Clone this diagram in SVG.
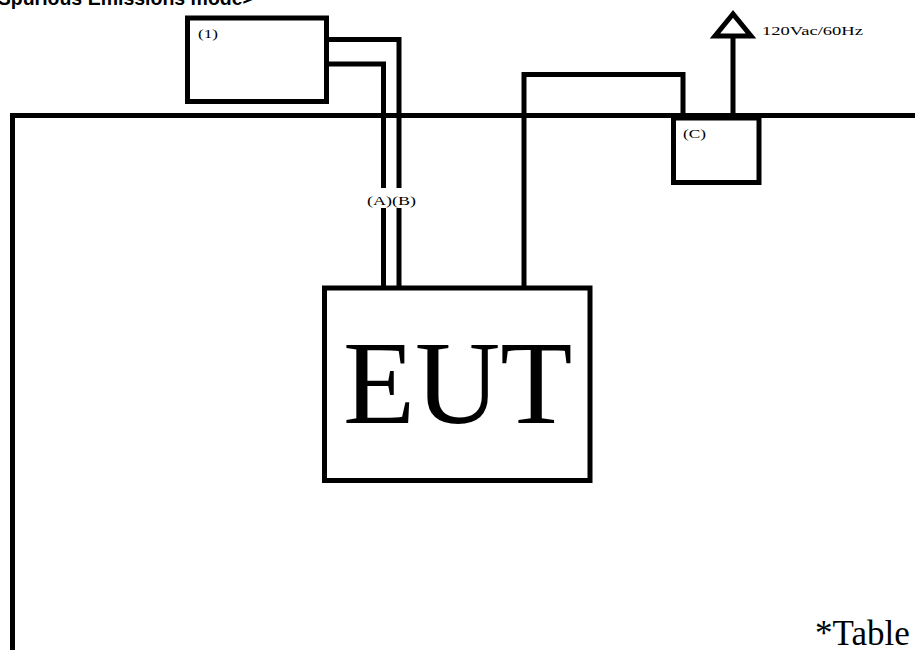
<svg xmlns="http://www.w3.org/2000/svg" width="915" height="650" viewBox="0 0 915 650">
  <style>
    .ln { fill: none; stroke: #000; stroke-width: 5; stroke-linejoin: miter; }
    .box { fill: #fff; stroke: #000; stroke-width: 5; }
    .lbl { font-family: "Liberation Serif", "DejaVu Serif", serif; font-size: 13px; fill: #000; }
    .title { font-family: "Liberation Sans", Arial, sans-serif; font-weight: bold; font-size: 19.5px; fill: #000; }
  </style>
  <rect width="915" height="650" fill="#fff"/>

  <!-- heading, partly outside the top edge -->
  <text class="title" x="254" y="5" text-anchor="end">&lt;Spurious Emissions mode&gt;</text>

  <!-- table outline -->
  <g id="table">
    <path class="ln" d="M12.5,650 V115.5 H915"/>
    <text x="815" y="645" font-family="Liberation Serif, serif" font-size="35" fill="#000">*Table</text>
  </g>

  <!-- cables -->
  <g id="connectors">
    <path class="ln" d="M326.5,64 H383.5 V288"/>
    <path class="ln" d="M326.5,39.5 H399 V288"/>
    <path class="ln" d="M524,288 V74.5 H683 V118"/>
    <path class="ln" d="M733,118 V36"/>
  </g>

  <g id="cable-labels">
    <rect x="365" y="188" width="54" height="20" fill="#fff"/>
    <text class="lbl" x="367" y="205" textLength="49" lengthAdjust="spacingAndGlyphs">(A)(B)</text>
  </g>

  <g id="node-1">
    <rect class="box" x="187.5" y="18" width="139" height="83.5"/>
    <text class="lbl" x="198" y="38" textLength="20" lengthAdjust="spacingAndGlyphs">(1)</text>
  </g>

  <g id="node-c">
    <rect class="box" x="673.5" y="118" width="85.5" height="64.5"/>
    <text class="lbl" x="683" y="138" textLength="23" lengthAdjust="spacingAndGlyphs">(C)</text>
  </g>

  <g id="power-source">
    <polygon class="ln" points="733,14 715,36 751,36"/>
    <text class="lbl" x="762" y="35" textLength="101" lengthAdjust="spacingAndGlyphs">120Vac/60Hz</text>
  </g>

  <g id="eut">
    <rect class="box" x="324.5" y="288" width="265.5" height="192.5"/>
    <text x="343" y="423" font-family="Liberation Serif, serif" font-size="118" fill="#000">EUT</text>
  </g>
</svg>
